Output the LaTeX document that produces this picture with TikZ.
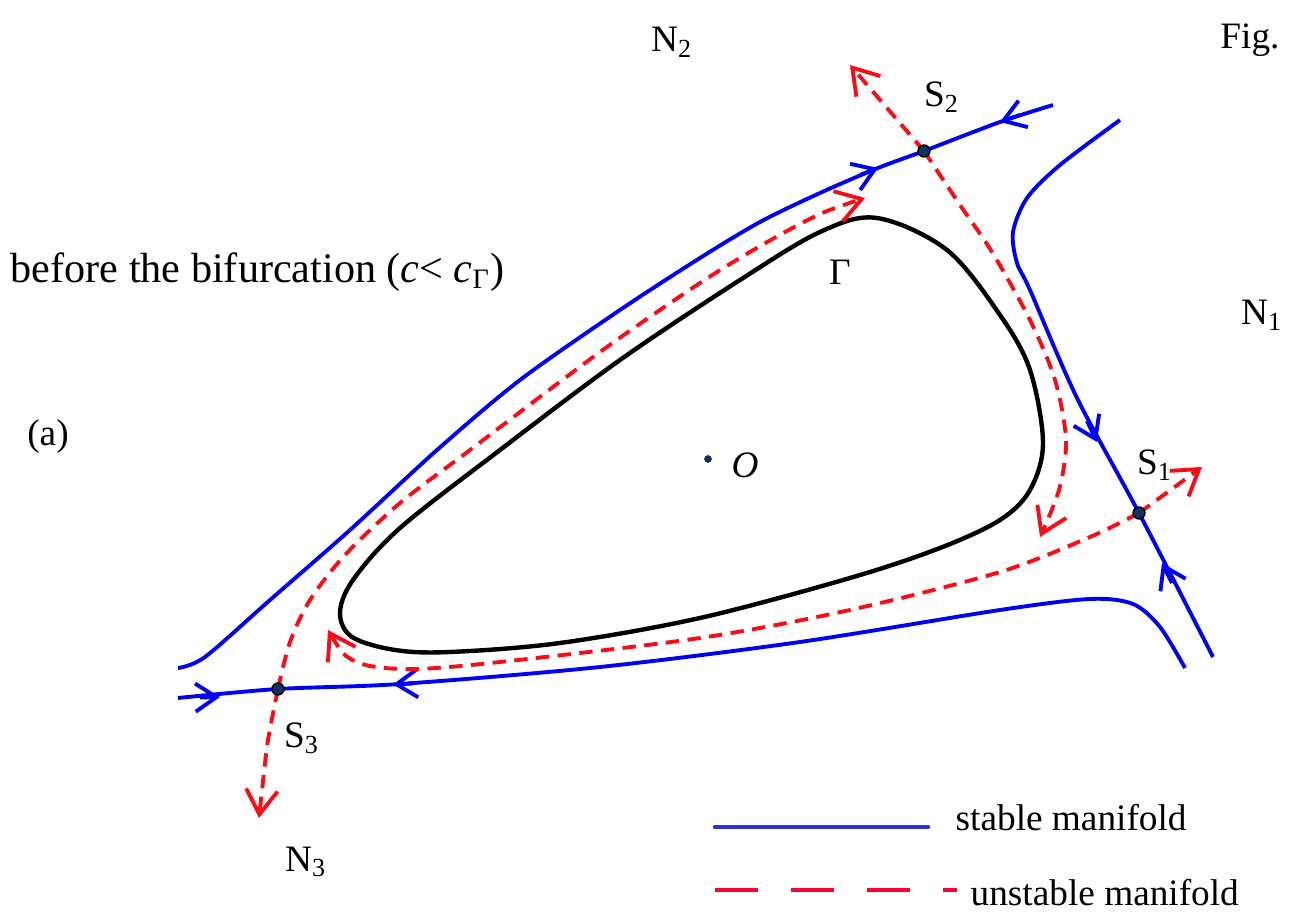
\documentclass[tikz,border=0pt]{standalone}
\usepackage{fontspec}
\setmainfont{Liberation Serif}
\usepackage{tikz}
\usetikzlibrary{arrows.meta, positioning}
\definecolor{stabblue}{RGB}{0,0,245}
\definecolor{unstred}{RGB}{255,10,20}
\definecolor{legblue}{RGB}{50,50,205}
\definecolor{legred}{RGB}{255,0,50}
\definecolor{saddlefill}{RGB}{15,50,95}
\tikzset{
  lbl/.style={font=\fontsize{10.6}{12}\selectfont, inner sep=0pt},
  stab/.style={draw=stabblue, line width=1.1pt},
  unstab/.style={draw=unstred, line width=1.1pt, dash pattern=on 3.8pt off 2.4pt},
  cycle/.style={draw=black, line width=1.25pt},
  flowtip/.style={stab, -{Straight Barb[length=6pt, width=8pt]}},
  outtip/.style={-{Straight Barb[length=7pt, width=9pt]}},
  saddle/.style={fill=saddlefill, draw=black, line width=0.4pt},
}

\begin{document}
\begin{tikzpicture}[x=0.01cm, y=-0.01cm]
  \useasboundingbox (0,0) rectangle (1293,916);

  % saddle points and centre
  \coordinate (s1) at (1139,513);
  \coordinate (s2) at (924,151);
  \coordinate (s3) at (278,689);
  \coordinate (o) at (708,459);

  % limit cycle Gamma
  \draw[cycle] plot[smooth cycle, tension=0.55] coordinates {
    (877,218) (947,250) (1000,315) (1030,370) (1043,443) (1030,490)
    (1000,520) (940,548) (850,578) (700,618) (560,643) (450,652)
    (395,650) (352,637) (340,613) (353,580) (400,528) (500,450)
    (620,360) (740,280) (820,232)};

  % stable manifolds
  \draw[stab] plot[smooth, tension=0.5] coordinates {
    (178,668) (205,657) (270,600) (350,530) (437,450) (520,380)
    (620,310) (700,258) (760,222) (820,193) (878,168) (s2) (1000,122) (1053,105)};
  \draw[stab] plot[smooth, tension=0.5] coordinates {
    (178,698) (s3) (400,684) (600,667) (800,642)
    (1000,610) (1090,599) (1133,604) (1160,627) (1185,668)};
  \draw[stab] plot[smooth, tension=0.5] coordinates {
    (1120,120) (1060,165) (1027,198) (1013,232) (1017,263) (1030,290)
    (1077,398) (s1) (1213,657)};

  % flow direction on the stable manifolds
  \draw[flowtip] (1020,115) -- (1000,122);
  \draw[flowtip] (860,175) -- (878,168);
  \draw[flowtip] (1087,421) -- (1097,442);
  \draw[flowtip] (1172,583) -- (1162,563);
  \draw[flowtip] (200,697.5) -- (220,697);
  \draw[flowtip] (413,683.5) -- (393,684.5);

  % unstable manifolds
  \draw[unstab, outtip] (s2) -- (850,65);
  \draw[unstab, outtip] plot[smooth, tension=0.5] coordinates {
    (s2) (960,205) (992,252) (1030,320) (1055,380) (1066,440) (1059,490) (1040,537)};
  \draw[unstab, outtip] (s1) -- (1202,467);
  \draw[unstab, outtip] plot[smooth, tension=0.5] coordinates {
    (s1) (1090,537) (1000,572) (850,610) (700,638) (500,662) (417,669)
    (370,666) (345,655) (328,630)};
  \draw[unstab, outtip] plot[smooth, tension=0.5] coordinates {
    (s3) (268,740) (262,790) (259,818)};
  \draw[unstab, outtip] plot[smooth, tension=0.5] coordinates {
    (s3) (290,642) (310,600) (345,555) (400,503) (470,450) (600,352)
    (700,283) (762,245) (820,214) (865,198)};

  % points
  \fill[saddle] (s1) circle[radius=1.7pt];
  \fill[saddle] (s2) circle[radius=1.7pt];
  \fill[saddle] (s3) circle[radius=1.7pt];
  \fill[saddlefill] (o) circle[radius=1.1pt];

  % labels
  \node[lbl] (n2) at (672,42) {N\textsubscript{2}};
  \node[lbl] (fig) at (1250,40) {Fig.};
  \node[lbl] (ls2) at (942,97) {S\textsubscript{2}};
  \node[lbl] (gam) at (840,272) {Γ};
  \node[lbl] (n1) at (1262,315) {N\textsubscript{1}};
  \node[lbl, font=\fontsize{12}{14}\selectfont, anchor=west] (title) at (10,272) {before the bifurcation (\textit{c}< \textit{c}\textsubscript{Γ})};
  \node[lbl] (tag) at (48,437) {(a)};
  \node[lbl] (lo) at (745,465) {\textit{O}};
  \node[lbl] (ls1) at (1155,465) {S\textsubscript{1}};
  \node[lbl] (ls3) at (302,738) {S\textsubscript{3}};
  \node[lbl] (n3) at (306,862) {N\textsubscript{3}};

  % legend
  \coordinate (lega) at (715,827);
  \coordinate (legb) at (928,827);
  \coordinate (legc) at (715,890);
  \coordinate (legd) at (957,890);
  \draw[legblue, line width=1.3pt, line cap=round] (lega) -- (legb);
  \draw[legred, line width=1.3pt, dash pattern=on 12.2pt off 9.4pt] (legc) -- (legd);
  \node[lbl, anchor=west] (stabtxt) at (955,818) {stable manifold};
  \node[lbl, anchor=west] (unstabtxt) at (970,893) {unstable manifold};
\end{tikzpicture}
\end{document}
